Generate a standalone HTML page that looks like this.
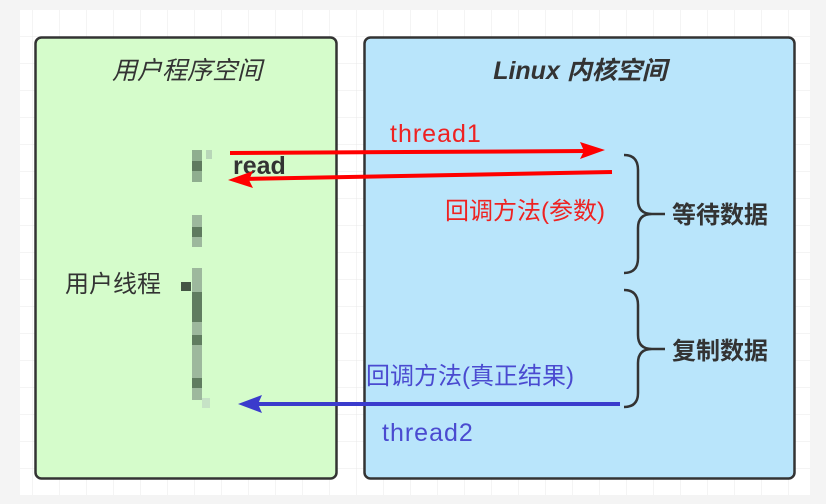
<!DOCTYPE html>
<html><head><meta charset="utf-8"><style>
html,body{margin:0;padding:0;background:#f4f4f4;}
svg{display:block;}
text{font-family:"Liberation Sans","Noto Sans CJK SC",sans-serif;}
</style></head><body>
<svg width="826" height="504" xmlns="http://www.w3.org/2000/svg">
<defs>
<pattern id="g" width="27" height="27" patternUnits="userSpaceOnUse" x="6" y="10">
<rect width="27" height="27" fill="#fff"/>
<path d="M27 0V27M0 27H27" stroke="#e8e8e8" stroke-width="1"/>
</pattern>
</defs>
<rect x="0" y="0" width="826" height="504" fill="#f4f4f4"/>
<rect x="20" y="10" width="790" height="485" fill="url(#g)"/>
<rect x="35.5" y="37.5" width="301" height="441" rx="6" fill="#d5fccb" stroke="#333" stroke-width="2.5"/>
<rect x="364.5" y="37.5" width="430" height="441" rx="6" fill="#b9e5fb" stroke="#333" stroke-width="2.5"/>
<text x="187" y="79" text-anchor="middle" font-size="25" font-style="italic" fill="#333">用户程序空间</text>
<text x="580" y="79" text-anchor="middle" font-size="25" font-style="italic" font-weight="bold" fill="#333">Linux 内核空间</text>
<text x="65" y="292" font-size="24" fill="#333">用户线程</text>
<rect x="181" y="282" width="10" height="9" fill="#445544"/>
<rect x="192" y="150" width="10" height="32" fill="#8fae8f"/>
<rect x="192" y="161" width="10" height="10" fill="#5f7a5f"/>
<rect x="206" y="150" width="6" height="9" fill="#b8d6b8"/>
<rect x="192" y="215" width="10" height="32" fill="#9db89d"/>
<rect x="192" y="227" width="10" height="10" fill="#5f7a5f"/>
<rect x="192" y="268" width="10" height="132" fill="#9db89d"/>
<rect x="192" y="292" width="10" height="30" fill="#607c60"/>
<rect x="192" y="335" width="10" height="10" fill="#607c60"/>
<rect x="192" y="378" width="10" height="10" fill="#607c60"/>
<rect x="202" y="398" width="8" height="10" fill="#c6e2c6"/>
<text x="233" y="174" font-size="25" font-weight="bold" fill="#333">read</text>
<text x="390" y="142" font-size="25" letter-spacing="1" fill="#ee2222">thread1</text>
<line x1="230" y1="153" x2="588" y2="151" stroke="#ff0000" stroke-width="4"/>
<polygon points="605,150 580,142 584,151 580,159" fill="#ff0000"/>
<line x1="612" y1="172" x2="243" y2="179" stroke="#ff0000" stroke-width="4"/>
<polygon points="228,180 253,171 249,180 253,188" fill="#ff0000"/>
<text x="445" y="219" font-size="24" fill="#ee2222">回调方法(参数)</text>
<path d="M624 155 Q638 155 638 170 L638 200 Q638 214 652 214 L665 214 M652 214 Q638 214 638 228 L638 258 Q638 273 624 273" fill="none" stroke="#333" stroke-width="2.5"/>
<text x="672" y="223" font-size="24" font-weight="bold" fill="#333">等待数据</text>
<path d="M624 290 Q638 290 638 305 L638 335 Q638 349 652 349 L665 349 M652 349 Q638 349 638 363 L638 393 Q638 407 624 407" fill="none" stroke="#333" stroke-width="2.5"/>
<text x="672" y="359" font-size="24" font-weight="bold" fill="#333">复制数据</text>
<text x="366" y="384" font-size="24" fill="#4a4ad0">回调方法(真正结果)</text>
<line x1="620" y1="404" x2="252" y2="404" stroke="#3b3bcc" stroke-width="4"/>
<polygon points="238,404 262,395 258,404 262,413" fill="#3b3bcc"/>
<text x="382" y="441" font-size="25" letter-spacing="1" fill="#4a4ad0">thread2</text>
</svg>
</body></html>
